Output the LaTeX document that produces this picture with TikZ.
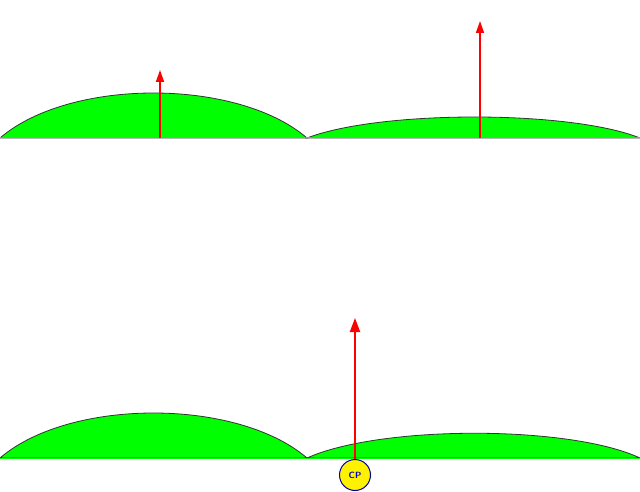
\documentclass[tikz,border=0pt]{standalone}
\usetikzlibrary{arrows.meta}
\begin{document}
\begin{tikzpicture}[x=1pt,y=-1pt,
  hump/.style={fill=green,draw=black!80,line width=0.8pt},
  vec/.style={draw=red,line width=2pt,-{Triangle[length=14pt,width=10pt]}},
  vecthin/.style={draw=red,line width=1.5pt,-{Triangle[length=12pt,width=8pt]}}]
\useasboundingbox (0,0) rectangle (640,492);
% top
\path[hump] (0,138) .. controls (70,78) and (237,78) .. (307,138) -- cycle;
\path[hump] (307,138) .. controls (380,110) and (570,110) .. (640,138) -- cycle;
\draw[green,line width=1pt] (0,138) -- (640,138);
\coordinate (a1s) at (160,138); \coordinate (a1e) at (160,70);
\coordinate (a2s) at (480,138); \coordinate (a2e) at (480,21);
\draw[vecthin] (a1s) -- (a1e);
\draw[vecthin] (a2s) -- (a2e);
% bottom
\path[hump] (0,458) .. controls (70,398) and (237,398) .. (307,458) -- cycle;
\path[hump] (307,458) .. controls (380,425) and (570,425) .. (640,458) -- cycle;
\draw[green,line width=1pt] (0,458) -- (640,458);
\node[circle,fill=yellow,draw=blue!70!black,line width=1pt,minimum size=31pt,inner sep=0pt,
  font=\sffamily\bfseries\small,text=blue!80!black] (cp) at (355,475) {CP};
\coordinate (a3e) at (355,318);
\draw[vec] (cp.north) -- (a3e);
\end{tikzpicture}
\end{document}
